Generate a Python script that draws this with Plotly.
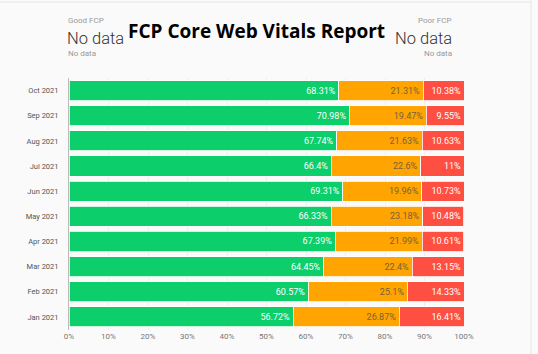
import plotly.graph_objects as go

months = ["Jan 2021", "Feb 2021", "Mar 2021", "Apr 2021", "May 2021",
          "Jun 2021", "Jul 2021", "Aug 2021", "Sep 2021", "Oct 2021"]
good = [56.72, 60.57, 64.45, 67.39, 66.33, 69.31, 66.4, 67.74, 70.98, 68.31]
needs = [26.87, 25.1, 22.4, 21.99, 23.18, 19.96, 22.6, 21.63, 19.47, 21.31]
poor = [16.41, 14.33, 13.15, 10.61, 10.48, 10.73, 11, 10.63, 9.55, 10.38]
x_ticks = [0, 10, 20, 30, 40, 50, 60, 70, 80, 90, 100]

W, H = 538, 354
fig = go.Figure()
series = [
    ("Good", good, "#0cce6b", "white"),
    ("Needs improvement", needs, "#ffa400", "#75633a"),
    ("Poor", poor, "#ff4e42", "white"),
]
for name, vals, col, tcol in series:
    fig.add_trace(go.Bar(
        y=months, x=vals, orientation="h", name=name,
        marker=dict(color=col, line=dict(color="white", width=0.8)),
        text=[f"{v:g}%" for v in vals], textposition="inside",
        insidetextanchor="end", constraintext="none",
        textfont=dict(family="Roboto", size=9, color=tcol),
        hoverinfo="skip",
    ))

fig.update_layout(
    width=W, height=H, barmode="stack", bargap=0.2, showlegend=False,
    paper_bgcolor="#fafafa", plot_bgcolor="#fafafa",
    margin=dict(l=0, r=0, t=0, b=0, autoexpand=False),
    xaxis=dict(domain=[69 / W, 464 / W], range=[0, 100], tickvals=x_ticks,
               ticktext=[f"{t}%" for t in x_ticks], showgrid=True,
               gridcolor="#eeeeee", zeroline=False, automargin=False,
               tickfont=dict(family="Roboto", size=8, color="#777777"),
               ticks="", fixedrange=True),
    yaxis=dict(domain=[1 - 329.5 / H, 1 - 78 / H], showline=True,
               linecolor="#bbbbbb", linewidth=1, ticks="", automargin=False,
               tickfont=dict(family="Roboto", size=7.5, color="#555555"),
               ticklabelstandoff=8, fixedrange=True),
    uniformtext=dict(mode=False),
)

def ann(x, y, text, size, color, anchor, bold=False, family="Roboto", weight=None):
    font = dict(family=family, size=size, color=color)
    if weight:
        font["weight"] = weight
    fig.add_annotation(x=x / W, y=1 - y / H, xref="paper", yref="paper",
                       text=f"<b>{text}</b>" if bold else text, showarrow=False,
                       xanchor=anchor, yanchor="middle", font=font)

ann(66, 21, "Good FCP", 8, "#999999", "left")
ann(65, 38, "No data", 16.5, "#333333", "left", weight=300)
ann(66, 53, "No data", 8, "#999999", "left")
ann(454, 21, "Poor FCP", 8, "#999999", "right")
ann(454, 38, "No data", 16.5, "#333333", "right", weight=300)
ann(454, 53, "No data", 8, "#999999", "right")
ann(256, 31, "FCP Core Web Vitals Report", 19, "#000000", "center", bold=True,
    family="Open Sans")

fig.add_shape(type="line", xref="paper", yref="paper", x0=531 / W, x1=531 / W,
              y0=0, y1=1, line=dict(color="#e6e6e6", width=1))
fig.add_shape(type="line", xref="paper", yref="paper", x0=0, x1=531 / W,
              y0=1 - 2 / H, y1=1 - 2 / H, line=dict(color="#e6e6e6", width=1))

fig.write_html("out.html")
